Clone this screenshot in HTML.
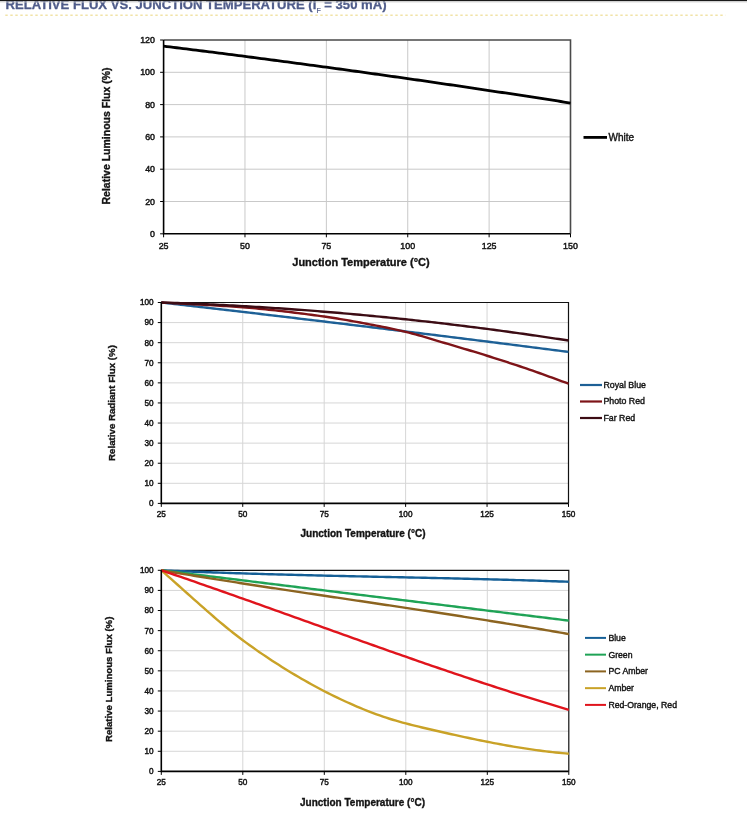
<!DOCTYPE html>
<html><head><meta charset="utf-8"><title>Relative Flux vs. Junction Temperature</title>
<style>
html,body{margin:0;padding:0;background:#fff;}
body{width:747px;height:833px;overflow:hidden;}
svg{display:block;will-change:transform;}
text{font-family:"Liberation Sans",Arial,sans-serif;}
.t{fill:#141414;stroke:#141414;stroke-width:0.45px;}
.b{font-weight:bold;fill:#141414;stroke:#141414;stroke-width:0.35px;}
.l{fill:#141414;stroke:#141414;stroke-width:0.4px;}
.h{font-weight:bold;fill:#4f5c8a;stroke:#4f5c8a;stroke-width:0.3px;}
</style></head><body>
<svg width="747" height="833" viewBox="0 0 747 833">
<rect width="747" height="833" fill="#fff"/>
<text x="5.5" y="9.4" class="h" font-size="13.1">RELATIVE FLUX VS. JUNCTION TEMPERATURE (I<tspan font-size="7" font-weight="normal" stroke-width="0.2" dy="3.2">F</tspan><tspan dy="-3.2"> = 350 mA)</tspan></text>
<line x1="5.3" y1="15.2" x2="725.5" y2="15.2" stroke="#f1e3a6" stroke-width="1.5" stroke-dasharray="2.4 2.6"/>
<rect x="0" y="0" width="747" height="1.2" fill="#1a1a1a"/>
<rect x="0" y="1.2" width="747" height="1.6" fill="#d4d4d4" opacity="0.5"/>
<line x1="244.98" y1="40" x2="244.98" y2="233.8" stroke="#c9c9c9" stroke-width="1"/>
<line x1="326.36" y1="40" x2="326.36" y2="233.8" stroke="#c9c9c9" stroke-width="1"/>
<line x1="407.74" y1="40" x2="407.74" y2="233.8" stroke="#c9c9c9" stroke-width="1"/>
<line x1="489.12" y1="40" x2="489.12" y2="233.8" stroke="#c9c9c9" stroke-width="1"/>
<line x1="163.6" y1="201.5" x2="570.5" y2="201.5" stroke="#c9c9c9" stroke-width="1"/>
<line x1="163.6" y1="169.2" x2="570.5" y2="169.2" stroke="#c9c9c9" stroke-width="1"/>
<line x1="163.6" y1="136.9" x2="570.5" y2="136.9" stroke="#c9c9c9" stroke-width="1"/>
<line x1="163.6" y1="104.6" x2="570.5" y2="104.6" stroke="#c9c9c9" stroke-width="1"/>
<line x1="163.6" y1="72.3" x2="570.5" y2="72.3" stroke="#c9c9c9" stroke-width="1"/>
<path d="M163.6 40 L570.5 40 L570.5 233.8" fill="none" stroke="#4a4a4a" stroke-width="1.6"/>
<path d="M163.6 46.13 L166.86 46.53 L170.11 46.94 L173.37 47.34 L176.62 47.74 L179.88 48.14 L183.13 48.55 L186.39 48.95 L189.64 49.36 L192.9 49.77 L196.15 50.18 L199.41 50.59 L202.66 51 L205.92 51.41 L209.17 51.82 L212.43 52.23 L215.68 52.64 L218.94 53.06 L222.19 53.47 L225.45 53.89 L228.7 54.31 L231.96 54.72 L235.21 55.14 L238.47 55.56 L241.72 55.98 L244.98 56.4 L248.24 56.83 L251.49 57.25 L254.75 57.67 L258 58.1 L261.26 58.53 L264.51 58.95 L267.77 59.38 L271.02 59.81 L274.28 60.24 L277.53 60.67 L280.79 61.1 L284.04 61.53 L287.3 61.96 L290.55 62.4 L293.81 62.83 L297.06 63.27 L300.32 63.7 L303.57 64.14 L306.83 64.58 L310.08 65.02 L313.34 65.46 L316.59 65.9 L319.85 66.34 L323.1 66.79 L326.36 67.23 L329.62 67.67 L332.87 68.12 L336.13 68.57 L339.38 69.01 L342.64 69.46 L345.89 69.91 L349.15 70.36 L352.4 70.81 L355.66 71.26 L358.91 71.71 L362.17 72.17 L365.42 72.62 L368.68 73.08 L371.93 73.53 L375.19 73.99 L378.44 74.45 L381.7 74.91 L384.95 75.37 L388.21 75.83 L391.46 76.29 L394.72 76.75 L397.97 77.21 L401.23 77.68 L404.48 78.14 L407.74 78.61 L411 79.07 L414.25 79.54 L417.51 80.01 L420.76 80.48 L424.02 80.95 L427.27 81.42 L430.53 81.89 L433.78 82.37 L437.04 82.84 L440.29 83.31 L443.55 83.79 L446.8 84.27 L450.06 84.74 L453.31 85.22 L456.57 85.7 L459.82 86.18 L463.08 86.66 L466.33 87.14 L469.59 87.63 L472.84 88.11 L476.1 88.59 L479.35 89.08 L482.61 89.56 L485.86 90.05 L489.12 90.54 L492.38 91.03 L495.63 91.52 L498.89 92.01 L502.14 92.5 L505.4 92.99 L508.65 93.49 L511.91 93.98 L515.16 94.48 L518.42 94.97 L521.67 95.47 L524.93 95.97 L528.18 96.46 L531.44 96.96 L534.69 97.46 L537.95 97.97 L541.2 98.47 L544.46 98.97 L547.71 99.47 L550.97 99.98 L554.22 100.49 L557.48 100.99 L560.73 101.5 L563.99 102.01 L567.24 102.52 L570.5 103.03" fill="none" stroke="#000" stroke-width="2.8" stroke-linejoin="round" stroke-linecap="butt"/>
<path d="M163.6 40 L163.6 233.8 L570.5 233.8" fill="none" stroke="#000" stroke-width="1.6"/>
<line x1="160.1" y1="233.8" x2="163.6" y2="233.8" stroke="#000" stroke-width="1"/>
<line x1="160.1" y1="201.5" x2="163.6" y2="201.5" stroke="#000" stroke-width="1"/>
<line x1="160.1" y1="169.2" x2="163.6" y2="169.2" stroke="#000" stroke-width="1"/>
<line x1="160.1" y1="136.9" x2="163.6" y2="136.9" stroke="#000" stroke-width="1"/>
<line x1="160.1" y1="104.6" x2="163.6" y2="104.6" stroke="#000" stroke-width="1"/>
<line x1="160.1" y1="72.3" x2="163.6" y2="72.3" stroke="#000" stroke-width="1"/>
<line x1="160.1" y1="40" x2="163.6" y2="40" stroke="#000" stroke-width="1"/>
<line x1="163.6" y1="233.8" x2="163.6" y2="237.3" stroke="#000" stroke-width="1"/>
<line x1="244.98" y1="233.8" x2="244.98" y2="237.3" stroke="#000" stroke-width="1"/>
<line x1="326.36" y1="233.8" x2="326.36" y2="237.3" stroke="#000" stroke-width="1"/>
<line x1="407.74" y1="233.8" x2="407.74" y2="237.3" stroke="#000" stroke-width="1"/>
<line x1="489.12" y1="233.8" x2="489.12" y2="237.3" stroke="#000" stroke-width="1"/>
<line x1="570.5" y1="233.8" x2="570.5" y2="237.3" stroke="#000" stroke-width="1"/>
<text x="155" y="236.8" text-anchor="end" font-size="8.9" class="t">0</text>
<text x="155" y="204.5" text-anchor="end" font-size="8.9" class="t">20</text>
<text x="155" y="172.2" text-anchor="end" font-size="8.9" class="t">40</text>
<text x="155" y="139.9" text-anchor="end" font-size="8.9" class="t">60</text>
<text x="155" y="107.6" text-anchor="end" font-size="8.9" class="t">80</text>
<text x="155" y="75.3" text-anchor="end" font-size="8.9" class="t">100</text>
<text x="155" y="43" text-anchor="end" font-size="8.9" class="t">120</text>
<text x="163.6" y="249" text-anchor="middle" font-size="8.9" class="t">25</text>
<text x="244.98" y="249" text-anchor="middle" font-size="8.9" class="t">50</text>
<text x="326.36" y="249" text-anchor="middle" font-size="8.9" class="t">75</text>
<text x="407.74" y="249" text-anchor="middle" font-size="8.9" class="t">100</text>
<text x="489.12" y="249" text-anchor="middle" font-size="8.9" class="t">125</text>
<text x="570.5" y="249" text-anchor="middle" font-size="8.9" class="t">150</text>
<text x="361" y="266.2" text-anchor="middle" font-size="11" class="b">Junction Temperature (°C)</text>
<text transform="translate(110 136) rotate(-90)" text-anchor="middle" font-size="10.5" class="b">Relative Luminous Flux (%)</text>
<line x1="583.5" y1="137.4" x2="607" y2="137.4" stroke="#000" stroke-width="2.8"/>
<text x="608.6" y="140.9" font-size="10" class="l">White</text>
<line x1="242.74" y1="302.5" x2="242.74" y2="503.4" stroke="#d6d6d6" stroke-width="1"/>
<line x1="324.18" y1="302.5" x2="324.18" y2="503.4" stroke="#d6d6d6" stroke-width="1"/>
<line x1="405.62" y1="302.5" x2="405.62" y2="503.4" stroke="#d6d6d6" stroke-width="1"/>
<line x1="487.06" y1="302.5" x2="487.06" y2="503.4" stroke="#d6d6d6" stroke-width="1"/>
<line x1="161.3" y1="483.31" x2="568.5" y2="483.31" stroke="#d6d6d6" stroke-width="1"/>
<line x1="161.3" y1="463.22" x2="568.5" y2="463.22" stroke="#d6d6d6" stroke-width="1"/>
<line x1="161.3" y1="443.13" x2="568.5" y2="443.13" stroke="#d6d6d6" stroke-width="1"/>
<line x1="161.3" y1="423.04" x2="568.5" y2="423.04" stroke="#d6d6d6" stroke-width="1"/>
<line x1="161.3" y1="402.95" x2="568.5" y2="402.95" stroke="#d6d6d6" stroke-width="1"/>
<line x1="161.3" y1="382.86" x2="568.5" y2="382.86" stroke="#d6d6d6" stroke-width="1"/>
<line x1="161.3" y1="362.77" x2="568.5" y2="362.77" stroke="#d6d6d6" stroke-width="1"/>
<line x1="161.3" y1="342.68" x2="568.5" y2="342.68" stroke="#d6d6d6" stroke-width="1"/>
<line x1="161.3" y1="322.59" x2="568.5" y2="322.59" stroke="#d6d6d6" stroke-width="1"/>
<path d="M161.3 302.5 L568.5 302.5 L568.5 503.4" fill="none" stroke="#111" stroke-width="1.2"/>
<path d="M161.3 302.5 L164.56 302.87 L167.82 303.24 L171.07 303.61 L174.33 303.99 L177.59 304.36 L180.85 304.73 L184.1 305.11 L187.36 305.48 L190.62 305.86 L193.88 306.23 L197.13 306.61 L200.39 306.98 L203.65 307.36 L206.91 307.74 L210.16 308.11 L213.42 308.49 L216.68 308.87 L219.94 309.25 L223.19 309.62 L226.45 310 L229.71 310.38 L232.97 310.76 L236.22 311.14 L239.48 311.52 L242.74 311.9 L246 312.29 L249.26 312.67 L252.51 313.05 L255.77 313.43 L259.03 313.81 L262.29 314.2 L265.54 314.58 L268.8 314.96 L272.06 315.35 L275.32 315.73 L278.57 316.12 L281.83 316.5 L285.09 316.89 L288.35 317.28 L291.6 317.66 L294.86 318.05 L298.12 318.44 L301.38 318.82 L304.63 319.21 L307.89 319.6 L311.15 319.99 L314.41 320.38 L317.66 320.77 L320.92 321.16 L324.18 321.55 L327.44 321.94 L330.7 322.33 L333.95 322.72 L337.21 323.11 L340.47 323.51 L343.73 323.9 L346.98 324.29 L350.24 324.69 L353.5 325.08 L356.76 325.47 L360.01 325.87 L363.27 326.26 L366.53 326.66 L369.79 327.05 L373.04 327.45 L376.3 327.85 L379.56 328.24 L382.82 328.64 L386.07 329.04 L389.33 329.44 L392.59 329.83 L395.85 330.23 L399.1 330.63 L402.36 331.03 L405.62 331.43 L408.88 331.83 L412.14 332.23 L415.39 332.63 L418.65 333.04 L421.91 333.44 L425.17 333.84 L428.42 334.24 L431.68 334.64 L434.94 335.05 L438.2 335.45 L441.45 335.86 L444.71 336.26 L447.97 336.66 L451.23 337.07 L454.48 337.48 L457.74 337.88 L461 338.29 L464.26 338.69 L467.51 339.1 L470.77 339.51 L474.03 339.92 L477.29 340.33 L480.54 340.73 L483.8 341.14 L487.06 341.55 L490.32 341.96 L493.58 342.37 L496.83 342.78 L500.09 343.19 L503.35 343.61 L506.61 344.02 L509.86 344.43 L513.12 344.84 L516.38 345.25 L519.64 345.67 L522.89 346.08 L526.15 346.5 L529.41 346.91 L532.67 347.32 L535.92 347.74 L539.18 348.15 L542.44 348.57 L545.7 348.99 L548.95 349.4 L552.21 349.82 L555.47 350.24 L558.73 350.66 L561.98 351.07 L565.24 351.49 L568.5 351.91" fill="none" stroke="#1d6096" stroke-width="2.4" stroke-linejoin="round" stroke-linecap="butt"/>
<path d="M161.3 302.5 L164.56 302.69 L167.82 302.88 L171.07 303.06 L174.33 303.24 L177.59 303.42 L180.85 303.59 L184.1 303.76 L187.36 303.94 L190.62 304.11 L193.88 304.28 L197.13 304.46 L200.39 304.63 L203.65 304.81 L206.91 304.99 L210.16 305.17 L213.42 305.36 L216.68 305.55 L219.94 305.75 L223.19 305.95 L226.45 306.16 L229.71 306.38 L232.97 306.6 L236.22 306.83 L239.48 307.07 L242.74 307.32 L246 307.58 L249.26 307.85 L252.51 308.13 L255.77 308.43 L259.03 308.73 L262.29 309.05 L265.54 309.37 L268.8 309.7 L272.06 310.05 L275.32 310.4 L278.57 310.76 L281.83 311.13 L285.09 311.51 L288.35 311.9 L291.6 312.29 L294.86 312.69 L298.12 313.1 L301.38 313.51 L304.63 313.93 L307.89 314.36 L311.15 314.79 L314.41 315.22 L317.66 315.67 L320.92 316.11 L324.18 316.56 L327.44 317.03 L330.7 317.51 L333.95 318.01 L337.21 318.53 L340.47 319.07 L343.73 319.62 L346.98 320.19 L350.24 320.76 L353.5 321.35 L356.76 321.94 L360.01 322.54 L363.27 323.14 L366.53 323.75 L369.79 324.36 L373.04 324.98 L376.3 325.6 L379.56 326.23 L382.82 326.88 L386.07 327.53 L389.33 328.2 L392.59 328.89 L395.85 329.59 L399.1 330.32 L402.36 331.06 L405.62 331.83 L408.88 332.63 L412.14 333.48 L415.39 334.35 L418.65 335.26 L421.91 336.19 L425.17 337.15 L428.42 338.11 L431.68 339.09 L434.94 340.07 L438.2 341.06 L441.45 342.03 L444.71 343 L447.97 343.96 L451.23 344.92 L454.48 345.88 L457.74 346.84 L461 347.81 L464.26 348.78 L467.51 349.76 L470.77 350.74 L474.03 351.72 L477.29 352.72 L480.54 353.72 L483.8 354.72 L487.06 355.74 L490.32 356.76 L493.58 357.79 L496.83 358.82 L500.09 359.86 L503.35 360.9 L506.61 361.96 L509.86 363.02 L513.12 364.08 L516.38 365.16 L519.64 366.24 L522.89 367.34 L526.15 368.44 L529.41 369.56 L532.67 370.69 L535.92 371.84 L539.18 373 L542.44 374.17 L545.7 375.35 L548.95 376.54 L552.21 377.73 L555.47 378.92 L558.73 380.11 L561.98 381.3 L565.24 382.49 L568.5 383.66" fill="none" stroke="#7e1418" stroke-width="2.4" stroke-linejoin="round" stroke-linecap="butt"/>
<path d="M161.3 302.5 L164.56 302.61 L167.82 302.72 L171.07 302.83 L174.33 302.94 L177.59 303.06 L180.85 303.18 L184.1 303.31 L187.36 303.43 L190.62 303.56 L193.88 303.7 L197.13 303.84 L200.39 303.98 L203.65 304.12 L206.91 304.27 L210.16 304.42 L213.42 304.57 L216.68 304.73 L219.94 304.89 L223.19 305.05 L226.45 305.21 L229.71 305.38 L232.97 305.56 L236.22 305.73 L239.48 305.91 L242.74 306.09 L246 306.28 L249.26 306.47 L252.51 306.66 L255.77 306.86 L259.03 307.05 L262.29 307.25 L265.54 307.46 L268.8 307.67 L272.06 307.88 L275.32 308.09 L278.57 308.31 L281.83 308.53 L285.09 308.76 L288.35 308.98 L291.6 309.21 L294.86 309.45 L298.12 309.68 L301.38 309.92 L304.63 310.17 L307.89 310.41 L311.15 310.66 L314.41 310.92 L317.66 311.17 L320.92 311.43 L324.18 311.7 L327.44 311.96 L330.7 312.23 L333.95 312.5 L337.21 312.78 L340.47 313.06 L343.73 313.34 L346.98 313.62 L350.24 313.91 L353.5 314.2 L356.76 314.5 L360.01 314.8 L363.27 315.1 L366.53 315.4 L369.79 315.71 L373.04 316.02 L376.3 316.34 L379.56 316.65 L382.82 316.97 L386.07 317.3 L389.33 317.62 L392.59 317.95 L395.85 318.29 L399.1 318.63 L402.36 318.97 L405.62 319.31 L408.88 319.65 L412.14 320 L415.39 320.36 L418.65 320.71 L421.91 321.07 L425.17 321.43 L428.42 321.8 L431.68 322.17 L434.94 322.54 L438.2 322.92 L441.45 323.29 L444.71 323.68 L447.97 324.06 L451.23 324.45 L454.48 324.84 L457.74 325.24 L461 325.63 L464.26 326.03 L467.51 326.44 L470.77 326.85 L474.03 327.26 L477.29 327.67 L480.54 328.09 L483.8 328.51 L487.06 328.93 L490.32 329.36 L493.58 329.79 L496.83 330.22 L500.09 330.66 L503.35 331.1 L506.61 331.54 L509.86 331.99 L513.12 332.44 L516.38 332.89 L519.64 333.34 L522.89 333.8 L526.15 334.26 L529.41 334.73 L532.67 335.2 L535.92 335.67 L539.18 336.15 L542.44 336.62 L545.7 337.1 L548.95 337.59 L552.21 338.08 L555.47 338.57 L558.73 339.06 L561.98 339.56 L565.24 340.06 L568.5 340.56" fill="none" stroke="#3c0c14" stroke-width="2.4" stroke-linejoin="round" stroke-linecap="butt"/>
<path d="M161.3 302.5 L161.3 503.4 L568.5 503.4" fill="none" stroke="#000" stroke-width="1.6"/>
<line x1="157.8" y1="503.4" x2="161.3" y2="503.4" stroke="#000" stroke-width="1"/>
<line x1="157.8" y1="483.31" x2="161.3" y2="483.31" stroke="#000" stroke-width="1"/>
<line x1="157.8" y1="463.22" x2="161.3" y2="463.22" stroke="#000" stroke-width="1"/>
<line x1="157.8" y1="443.13" x2="161.3" y2="443.13" stroke="#000" stroke-width="1"/>
<line x1="157.8" y1="423.04" x2="161.3" y2="423.04" stroke="#000" stroke-width="1"/>
<line x1="157.8" y1="402.95" x2="161.3" y2="402.95" stroke="#000" stroke-width="1"/>
<line x1="157.8" y1="382.86" x2="161.3" y2="382.86" stroke="#000" stroke-width="1"/>
<line x1="157.8" y1="362.77" x2="161.3" y2="362.77" stroke="#000" stroke-width="1"/>
<line x1="157.8" y1="342.68" x2="161.3" y2="342.68" stroke="#000" stroke-width="1"/>
<line x1="157.8" y1="322.59" x2="161.3" y2="322.59" stroke="#000" stroke-width="1"/>
<line x1="157.8" y1="302.5" x2="161.3" y2="302.5" stroke="#000" stroke-width="1"/>
<line x1="161.3" y1="503.4" x2="161.3" y2="506.9" stroke="#000" stroke-width="1"/>
<line x1="242.74" y1="503.4" x2="242.74" y2="506.9" stroke="#000" stroke-width="1"/>
<line x1="324.18" y1="503.4" x2="324.18" y2="506.9" stroke="#000" stroke-width="1"/>
<line x1="405.62" y1="503.4" x2="405.62" y2="506.9" stroke="#000" stroke-width="1"/>
<line x1="487.06" y1="503.4" x2="487.06" y2="506.9" stroke="#000" stroke-width="1"/>
<line x1="568.5" y1="503.4" x2="568.5" y2="506.9" stroke="#000" stroke-width="1"/>
<text x="153.6" y="506.3" text-anchor="end" font-size="8.2" class="t">0</text>
<text x="153.6" y="486.21" text-anchor="end" font-size="8.2" class="t">10</text>
<text x="153.6" y="466.12" text-anchor="end" font-size="8.2" class="t">20</text>
<text x="153.6" y="446.03" text-anchor="end" font-size="8.2" class="t">30</text>
<text x="153.6" y="425.94" text-anchor="end" font-size="8.2" class="t">40</text>
<text x="153.6" y="405.85" text-anchor="end" font-size="8.2" class="t">50</text>
<text x="153.6" y="385.76" text-anchor="end" font-size="8.2" class="t">60</text>
<text x="153.6" y="365.67" text-anchor="end" font-size="8.2" class="t">70</text>
<text x="153.6" y="345.58" text-anchor="end" font-size="8.2" class="t">80</text>
<text x="153.6" y="325.49" text-anchor="end" font-size="8.2" class="t">90</text>
<text x="153.6" y="305.4" text-anchor="end" font-size="8.2" class="t">100</text>
<text x="161.3" y="517.2" text-anchor="middle" font-size="8.2" class="t">25</text>
<text x="242.74" y="517.2" text-anchor="middle" font-size="8.2" class="t">50</text>
<text x="324.18" y="517.2" text-anchor="middle" font-size="8.2" class="t">75</text>
<text x="405.62" y="517.2" text-anchor="middle" font-size="8.2" class="t">100</text>
<text x="487.06" y="517.2" text-anchor="middle" font-size="8.2" class="t">125</text>
<text x="568.5" y="517.2" text-anchor="middle" font-size="8.2" class="t">150</text>
<text x="363" y="537.4" text-anchor="middle" font-size="10" class="b">Junction Temperature (°C)</text>
<text transform="translate(115.2 403) rotate(-90)" text-anchor="middle" font-size="9.7" class="b">Relative Radiant Flux (%)</text>
<line x1="580" y1="385" x2="602" y2="385" stroke="#1d6096" stroke-width="2.2"/>
<text x="603.4" y="387.7" font-size="8.8" class="l">Royal Blue</text>
<line x1="580" y1="401.5" x2="602" y2="401.5" stroke="#7e1418" stroke-width="2.2"/>
<text x="603.4" y="404.2" font-size="8.8" class="l">Photo Red</text>
<line x1="580" y1="418" x2="602" y2="418" stroke="#3c0c14" stroke-width="2.2"/>
<text x="603.4" y="420.7" font-size="8.8" class="l">Far Red</text>
<line x1="242.8" y1="570.3" x2="242.8" y2="771.4" stroke="#d6d6d6" stroke-width="1"/>
<line x1="324.3" y1="570.3" x2="324.3" y2="771.4" stroke="#d6d6d6" stroke-width="1"/>
<line x1="405.8" y1="570.3" x2="405.8" y2="771.4" stroke="#d6d6d6" stroke-width="1"/>
<line x1="487.3" y1="570.3" x2="487.3" y2="771.4" stroke="#d6d6d6" stroke-width="1"/>
<line x1="161.3" y1="751.29" x2="568.8" y2="751.29" stroke="#d6d6d6" stroke-width="1"/>
<line x1="161.3" y1="731.18" x2="568.8" y2="731.18" stroke="#d6d6d6" stroke-width="1"/>
<line x1="161.3" y1="711.07" x2="568.8" y2="711.07" stroke="#d6d6d6" stroke-width="1"/>
<line x1="161.3" y1="690.96" x2="568.8" y2="690.96" stroke="#d6d6d6" stroke-width="1"/>
<line x1="161.3" y1="670.85" x2="568.8" y2="670.85" stroke="#d6d6d6" stroke-width="1"/>
<line x1="161.3" y1="650.74" x2="568.8" y2="650.74" stroke="#d6d6d6" stroke-width="1"/>
<line x1="161.3" y1="630.63" x2="568.8" y2="630.63" stroke="#d6d6d6" stroke-width="1"/>
<line x1="161.3" y1="610.52" x2="568.8" y2="610.52" stroke="#d6d6d6" stroke-width="1"/>
<line x1="161.3" y1="590.41" x2="568.8" y2="590.41" stroke="#d6d6d6" stroke-width="1"/>
<path d="M161.3 570.3 L568.8 570.3 L568.8 771.4" fill="none" stroke="#111" stroke-width="1.2"/>
<path d="M161.3 570.3 L164.56 570.45 L167.82 570.6 L171.08 570.74 L174.34 570.88 L177.6 571.02 L180.86 571.16 L184.12 571.3 L187.38 571.43 L190.64 571.56 L193.9 571.69 L197.16 571.82 L200.42 571.95 L203.68 572.07 L206.94 572.19 L210.2 572.31 L213.46 572.43 L216.72 572.55 L219.98 572.66 L223.24 572.78 L226.5 572.89 L229.76 573 L233.02 573.1 L236.28 573.21 L239.54 573.32 L242.8 573.42 L246.06 573.52 L249.32 573.62 L252.58 573.72 L255.84 573.82 L259.1 573.91 L262.36 574.01 L265.62 574.1 L268.88 574.2 L272.14 574.29 L275.4 574.38 L278.66 574.47 L281.92 574.55 L285.18 574.64 L288.44 574.73 L291.7 574.81 L294.96 574.89 L298.22 574.98 L301.48 575.06 L304.74 575.14 L308 575.22 L311.26 575.3 L314.52 575.38 L317.78 575.45 L321.04 575.53 L324.3 575.61 L327.56 575.68 L330.82 575.76 L334.08 575.83 L337.34 575.9 L340.6 575.98 L343.86 576.05 L347.12 576.12 L350.38 576.19 L353.64 576.26 L356.9 576.34 L360.16 576.41 L363.42 576.48 L366.68 576.55 L369.94 576.62 L373.2 576.69 L376.46 576.76 L379.72 576.83 L382.98 576.9 L386.24 576.96 L389.5 577.03 L392.76 577.1 L396.02 577.17 L399.28 577.24 L402.54 577.31 L405.8 577.38 L409.06 577.45 L412.32 577.52 L415.58 577.59 L418.84 577.66 L422.1 577.73 L425.36 577.8 L428.62 577.88 L431.88 577.95 L435.14 578.02 L438.4 578.09 L441.66 578.17 L444.92 578.24 L448.18 578.32 L451.44 578.39 L454.7 578.47 L457.96 578.54 L461.22 578.62 L464.48 578.7 L467.74 578.78 L471 578.86 L474.26 578.94 L477.52 579.02 L480.78 579.1 L484.04 579.18 L487.3 579.27 L490.56 579.35 L493.82 579.44 L497.08 579.53 L500.34 579.62 L503.6 579.71 L506.86 579.8 L510.12 579.89 L513.38 579.98 L516.64 580.08 L519.9 580.17 L523.16 580.27 L526.42 580.37 L529.68 580.47 L532.94 580.57 L536.2 580.67 L539.46 580.78 L542.72 580.88 L545.98 580.99 L549.24 581.1 L552.5 581.21 L555.76 581.32 L559.02 581.44 L562.28 581.55 L565.54 581.67 L568.8 581.79" fill="none" stroke="#155f96" stroke-width="2.4" stroke-linejoin="round" stroke-linecap="butt"/>
<path d="M161.3 570.3 L164.56 570.7 L167.82 571.11 L171.08 571.51 L174.34 571.91 L177.6 572.31 L180.86 572.72 L184.12 573.12 L187.38 573.52 L190.64 573.92 L193.9 574.33 L197.16 574.73 L200.42 575.13 L203.68 575.53 L206.94 575.94 L210.2 576.34 L213.46 576.74 L216.72 577.15 L219.98 577.55 L223.24 577.95 L226.5 578.35 L229.76 578.76 L233.02 579.16 L236.28 579.56 L239.54 579.96 L242.8 580.37 L246.06 580.77 L249.32 581.17 L252.58 581.57 L255.84 581.98 L259.1 582.38 L262.36 582.78 L265.62 583.19 L268.88 583.59 L272.14 583.99 L275.4 584.39 L278.66 584.8 L281.92 585.2 L285.18 585.6 L288.44 586 L291.7 586.41 L294.96 586.81 L298.22 587.21 L301.48 587.61 L304.74 588.02 L308 588.42 L311.26 588.82 L314.52 589.23 L317.78 589.63 L321.04 590.03 L324.3 590.43 L327.56 590.84 L330.82 591.24 L334.08 591.64 L337.34 592.04 L340.6 592.45 L343.86 592.85 L347.12 593.25 L350.38 593.65 L353.64 594.06 L356.9 594.46 L360.16 594.86 L363.42 595.27 L366.68 595.67 L369.94 596.07 L373.2 596.47 L376.46 596.88 L379.72 597.28 L382.98 597.68 L386.24 598.08 L389.5 598.49 L392.76 598.89 L396.02 599.29 L399.28 599.69 L402.54 600.1 L405.8 600.5 L409.06 600.9 L412.32 601.31 L415.58 601.71 L418.84 602.11 L422.1 602.51 L425.36 602.92 L428.62 603.32 L431.88 603.72 L435.14 604.12 L438.4 604.53 L441.66 604.93 L444.92 605.33 L448.18 605.73 L451.44 606.14 L454.7 606.54 L457.96 606.94 L461.22 607.35 L464.48 607.75 L467.74 608.15 L471 608.55 L474.26 608.96 L477.52 609.36 L480.78 609.76 L484.04 610.16 L487.3 610.57 L490.56 610.97 L493.82 611.37 L497.08 611.77 L500.34 612.18 L503.6 612.58 L506.86 612.98 L510.12 613.39 L513.38 613.79 L516.64 614.19 L519.9 614.59 L523.16 615 L526.42 615.4 L529.68 615.8 L532.94 616.2 L536.2 616.61 L539.46 617.01 L542.72 617.41 L545.98 617.81 L549.24 618.22 L552.5 618.62 L555.76 619.02 L559.02 619.43 L562.28 619.83 L565.54 620.23 L568.8 620.63" fill="none" stroke="#1fa356" stroke-width="2.4" stroke-linejoin="round" stroke-linecap="butt"/>
<path d="M161.3 570.3 L164.56 570.85 L167.82 571.4 L171.08 571.95 L174.34 572.49 L177.6 573.03 L180.86 573.57 L184.12 574.11 L187.38 574.64 L190.64 575.17 L193.9 575.7 L197.16 576.23 L200.42 576.76 L203.68 577.28 L206.94 577.8 L210.2 578.33 L213.46 578.85 L216.72 579.36 L219.98 579.88 L223.24 580.39 L226.5 580.91 L229.76 581.42 L233.02 581.93 L236.28 582.43 L239.54 582.94 L242.8 583.45 L246.06 583.95 L249.32 584.45 L252.58 584.95 L255.84 585.45 L259.1 585.95 L262.36 586.45 L265.62 586.95 L268.88 587.44 L272.14 587.94 L275.4 588.43 L278.66 588.93 L281.92 589.42 L285.18 589.91 L288.44 590.4 L291.7 590.89 L294.96 591.38 L298.22 591.86 L301.48 592.35 L304.74 592.84 L308 593.33 L311.26 593.81 L314.52 594.3 L317.78 594.78 L321.04 595.27 L324.3 595.75 L327.56 596.23 L330.82 596.72 L334.08 597.2 L337.34 597.68 L340.6 598.17 L343.86 598.65 L347.12 599.13 L350.38 599.62 L353.64 600.1 L356.9 600.58 L360.16 601.06 L363.42 601.55 L366.68 602.03 L369.94 602.51 L373.2 603 L376.46 603.48 L379.72 603.97 L382.98 604.45 L386.24 604.94 L389.5 605.42 L392.76 605.91 L396.02 606.4 L399.28 606.88 L402.54 607.37 L405.8 607.86 L409.06 608.35 L412.32 608.84 L415.58 609.33 L418.84 609.82 L422.1 610.32 L425.36 610.81 L428.62 611.3 L431.88 611.8 L435.14 612.3 L438.4 612.79 L441.66 613.29 L444.92 613.79 L448.18 614.29 L451.44 614.8 L454.7 615.3 L457.96 615.81 L461.22 616.31 L464.48 616.82 L467.74 617.33 L471 617.84 L474.26 618.35 L477.52 618.87 L480.78 619.38 L484.04 619.9 L487.3 620.42 L490.56 620.94 L493.82 621.46 L497.08 621.99 L500.34 622.52 L503.6 623.04 L506.86 623.57 L510.12 624.11 L513.38 624.64 L516.64 625.18 L519.9 625.72 L523.16 626.26 L526.42 626.8 L529.68 627.34 L532.94 627.89 L536.2 628.44 L539.46 628.99 L542.72 629.55 L545.98 630.1 L549.24 630.66 L552.5 631.23 L555.76 631.79 L559.02 632.36 L562.28 632.93 L565.54 633.5 L568.8 634.08" fill="none" stroke="#8c6420" stroke-width="2.4" stroke-linejoin="round" stroke-linecap="butt"/>
<path d="M161.3 570.3 L164.56 573.17 L167.82 576.05 L171.08 578.95 L174.34 581.85 L177.6 584.76 L180.86 587.67 L184.12 590.58 L187.38 593.49 L190.64 596.4 L193.9 599.31 L197.16 602.21 L200.42 605.09 L203.68 607.97 L206.94 610.83 L210.2 613.68 L213.46 616.5 L216.72 619.3 L219.98 622.06 L223.24 624.79 L226.5 627.47 L229.76 630.11 L233.02 632.7 L236.28 635.25 L239.54 637.75 L242.8 640.2 L246.06 642.62 L249.32 644.99 L252.58 647.33 L255.84 649.63 L259.1 651.89 L262.36 654.12 L265.62 656.32 L268.88 658.5 L272.14 660.64 L275.4 662.76 L278.66 664.84 L281.92 666.91 L285.18 668.94 L288.44 670.95 L291.7 672.93 L294.96 674.88 L298.22 676.81 L301.48 678.7 L304.74 680.57 L308 682.41 L311.26 684.23 L314.52 686.01 L317.78 687.76 L321.04 689.49 L324.3 691.19 L327.56 692.86 L330.82 694.5 L334.08 696.11 L337.34 697.69 L340.6 699.24 L343.86 700.76 L347.12 702.25 L350.38 703.71 L353.64 705.14 L356.9 706.55 L360.16 707.92 L363.42 709.26 L366.68 710.57 L369.94 711.85 L373.2 713.09 L376.46 714.3 L379.72 715.48 L382.98 716.61 L386.24 717.7 L389.5 718.75 L392.76 719.75 L396.02 720.72 L399.28 721.64 L402.54 722.54 L405.8 723.41 L409.06 724.25 L412.32 725.08 L415.58 725.9 L418.84 726.69 L422.1 727.48 L425.36 728.25 L428.62 729.01 L431.88 729.77 L435.14 730.52 L438.4 731.27 L441.66 732.01 L444.92 732.75 L448.18 733.49 L451.44 734.22 L454.7 734.94 L457.96 735.66 L461.22 736.37 L464.48 737.08 L467.74 737.78 L471 738.47 L474.26 739.15 L477.52 739.83 L480.78 740.49 L484.04 741.15 L487.3 741.8 L490.56 742.44 L493.82 743.06 L497.08 743.68 L500.34 744.29 L503.6 744.88 L506.86 745.46 L510.12 746.03 L513.38 746.59 L516.64 747.13 L519.9 747.66 L523.16 748.18 L526.42 748.68 L529.68 749.17 L532.94 749.64 L536.2 750.09 L539.46 750.53 L542.72 750.96 L545.98 751.36 L549.24 751.75 L552.5 752.12 L555.76 752.48 L559.02 752.81 L562.28 753.13 L565.54 753.42 L568.8 753.7" fill="none" stroke="#c9a227" stroke-width="2.4" stroke-linejoin="round" stroke-linecap="butt"/>
<path d="M161.3 570.3 L164.56 571.41 L167.82 572.52 L171.08 573.63 L174.34 574.75 L177.6 575.87 L180.86 576.99 L184.12 578.11 L187.38 579.23 L190.64 580.36 L193.9 581.49 L197.16 582.62 L200.42 583.76 L203.68 584.89 L206.94 586.03 L210.2 587.17 L213.46 588.31 L216.72 589.46 L219.98 590.6 L223.24 591.75 L226.5 592.9 L229.76 594.05 L233.02 595.2 L236.28 596.36 L239.54 597.51 L242.8 598.67 L246.06 599.82 L249.32 600.98 L252.58 602.14 L255.84 603.3 L259.1 604.47 L262.36 605.63 L265.62 606.79 L268.88 607.96 L272.14 609.12 L275.4 610.29 L278.66 611.45 L281.92 612.62 L285.18 613.79 L288.44 614.96 L291.7 616.12 L294.96 617.29 L298.22 618.46 L301.48 619.63 L304.74 620.8 L308 621.97 L311.26 623.14 L314.52 624.31 L317.78 625.48 L321.04 626.64 L324.3 627.81 L327.56 628.98 L330.82 630.15 L334.08 631.31 L337.34 632.48 L340.6 633.65 L343.86 634.81 L347.12 635.97 L350.38 637.14 L353.64 638.3 L356.9 639.46 L360.16 640.62 L363.42 641.78 L366.68 642.94 L369.94 644.1 L373.2 645.25 L376.46 646.41 L379.72 647.56 L382.98 648.71 L386.24 649.86 L389.5 651.01 L392.76 652.15 L396.02 653.3 L399.28 654.44 L402.54 655.58 L405.8 656.72 L409.06 657.86 L412.32 659 L415.58 660.13 L418.84 661.26 L422.1 662.39 L425.36 663.51 L428.62 664.64 L431.88 665.76 L435.14 666.88 L438.4 667.99 L441.66 669.11 L444.92 670.22 L448.18 671.33 L451.44 672.43 L454.7 673.54 L457.96 674.63 L461.22 675.73 L464.48 676.82 L467.74 677.91 L471 679 L474.26 680.08 L477.52 681.17 L480.78 682.24 L484.04 683.32 L487.3 684.38 L490.56 685.45 L493.82 686.51 L497.08 687.57 L500.34 688.63 L503.6 689.68 L506.86 690.72 L510.12 691.77 L513.38 692.81 L516.64 693.84 L519.9 694.87 L523.16 695.9 L526.42 696.92 L529.68 697.94 L532.94 698.95 L536.2 699.96 L539.46 700.96 L542.72 701.96 L545.98 702.96 L549.24 703.95 L552.5 704.93 L555.76 705.91 L559.02 706.89 L562.28 707.86 L565.54 708.82 L568.8 709.78" fill="none" stroke="#e0141c" stroke-width="2.4" stroke-linejoin="round" stroke-linecap="butt"/>
<path d="M161.3 570.3 L161.3 771.4 L568.8 771.4" fill="none" stroke="#000" stroke-width="1.6"/>
<line x1="157.8" y1="771.4" x2="161.3" y2="771.4" stroke="#000" stroke-width="1"/>
<line x1="157.8" y1="751.29" x2="161.3" y2="751.29" stroke="#000" stroke-width="1"/>
<line x1="157.8" y1="731.18" x2="161.3" y2="731.18" stroke="#000" stroke-width="1"/>
<line x1="157.8" y1="711.07" x2="161.3" y2="711.07" stroke="#000" stroke-width="1"/>
<line x1="157.8" y1="690.96" x2="161.3" y2="690.96" stroke="#000" stroke-width="1"/>
<line x1="157.8" y1="670.85" x2="161.3" y2="670.85" stroke="#000" stroke-width="1"/>
<line x1="157.8" y1="650.74" x2="161.3" y2="650.74" stroke="#000" stroke-width="1"/>
<line x1="157.8" y1="630.63" x2="161.3" y2="630.63" stroke="#000" stroke-width="1"/>
<line x1="157.8" y1="610.52" x2="161.3" y2="610.52" stroke="#000" stroke-width="1"/>
<line x1="157.8" y1="590.41" x2="161.3" y2="590.41" stroke="#000" stroke-width="1"/>
<line x1="157.8" y1="570.3" x2="161.3" y2="570.3" stroke="#000" stroke-width="1"/>
<line x1="161.3" y1="771.4" x2="161.3" y2="774.9" stroke="#000" stroke-width="1"/>
<line x1="242.8" y1="771.4" x2="242.8" y2="774.9" stroke="#000" stroke-width="1"/>
<line x1="324.3" y1="771.4" x2="324.3" y2="774.9" stroke="#000" stroke-width="1"/>
<line x1="405.8" y1="771.4" x2="405.8" y2="774.9" stroke="#000" stroke-width="1"/>
<line x1="487.3" y1="771.4" x2="487.3" y2="774.9" stroke="#000" stroke-width="1"/>
<line x1="568.8" y1="771.4" x2="568.8" y2="774.9" stroke="#000" stroke-width="1"/>
<text x="153.6" y="774.3" text-anchor="end" font-size="8.2" class="t">0</text>
<text x="153.6" y="754.19" text-anchor="end" font-size="8.2" class="t">10</text>
<text x="153.6" y="734.08" text-anchor="end" font-size="8.2" class="t">20</text>
<text x="153.6" y="713.97" text-anchor="end" font-size="8.2" class="t">30</text>
<text x="153.6" y="693.86" text-anchor="end" font-size="8.2" class="t">40</text>
<text x="153.6" y="673.75" text-anchor="end" font-size="8.2" class="t">50</text>
<text x="153.6" y="653.64" text-anchor="end" font-size="8.2" class="t">60</text>
<text x="153.6" y="633.53" text-anchor="end" font-size="8.2" class="t">70</text>
<text x="153.6" y="613.42" text-anchor="end" font-size="8.2" class="t">80</text>
<text x="153.6" y="593.31" text-anchor="end" font-size="8.2" class="t">90</text>
<text x="153.6" y="573.2" text-anchor="end" font-size="8.2" class="t">100</text>
<text x="161.3" y="785.3" text-anchor="middle" font-size="8.2" class="t">25</text>
<text x="242.8" y="785.3" text-anchor="middle" font-size="8.2" class="t">50</text>
<text x="324.3" y="785.3" text-anchor="middle" font-size="8.2" class="t">75</text>
<text x="405.8" y="785.3" text-anchor="middle" font-size="8.2" class="t">100</text>
<text x="487.3" y="785.3" text-anchor="middle" font-size="8.2" class="t">125</text>
<text x="568.8" y="785.3" text-anchor="middle" font-size="8.2" class="t">150</text>
<text x="362.5" y="806.3" text-anchor="middle" font-size="10" class="b">Junction Temperature (°C)</text>
<text transform="translate(112.4 679.3) rotate(-90)" text-anchor="middle" font-size="9.6" class="b">Relative Luminous Flux (%)</text>
<line x1="585" y1="637.9" x2="606" y2="637.9" stroke="#155f96" stroke-width="2"/>
<text x="608.4" y="640.8" font-size="8.7" class="l">Blue</text>
<line x1="585" y1="654.65" x2="606" y2="654.65" stroke="#1fa356" stroke-width="2"/>
<text x="608.4" y="657.55" font-size="8.7" class="l">Green</text>
<line x1="585" y1="671.4" x2="606" y2="671.4" stroke="#8c6420" stroke-width="2"/>
<text x="608.4" y="674.3" font-size="8.7" class="l">PC Amber</text>
<line x1="585" y1="688.15" x2="606" y2="688.15" stroke="#c9a227" stroke-width="2"/>
<text x="608.4" y="691.05" font-size="8.7" class="l">Amber</text>
<line x1="585" y1="704.9" x2="606" y2="704.9" stroke="#e0141c" stroke-width="2"/>
<text x="608.4" y="707.8" font-size="8.7" class="l">Red-Orange, Red</text>
</svg>
</body></html>
